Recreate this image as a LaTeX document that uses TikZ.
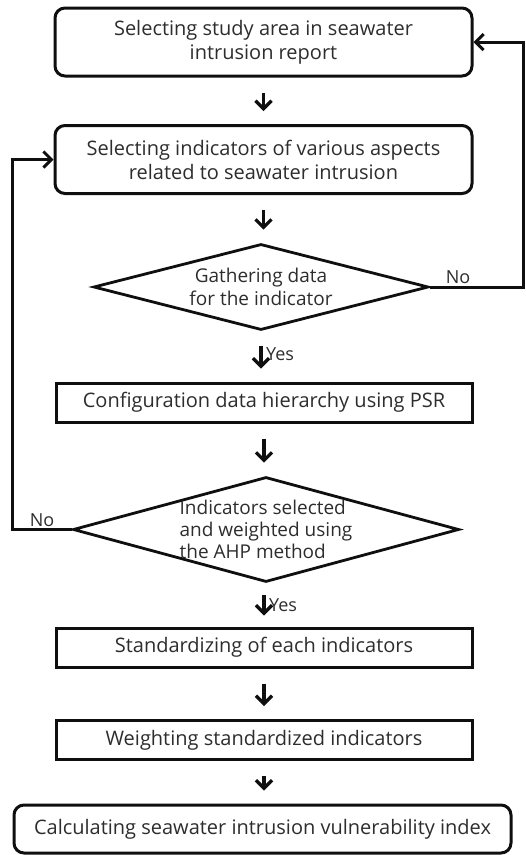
\documentclass[tikz,border=0pt]{standalone}
\usepackage{fontspec}
\setmainfont{Open Sans}
\usetikzlibrary{shapes.geometric, positioning, arrows.meta}
\definecolor{FCInk}{RGB}{15,15,15}
\definecolor{FCText}{RGB}{45,45,45}

\begin{document}
\begin{tikzpicture}[x=1pt, y=-1pt,
    every node/.style={font=\fontsize{20}{24}\selectfont, text=FCText},
    roundbox/.style={draw=FCInk, line width=3pt, rounded corners=10pt,
                     minimum width=417pt, minimum height=68pt, align=center},
    plainbox/.style={draw=FCInk, line width=3pt,
                     minimum width=416pt, minimum height=39pt},
    decision/.style={diamond, draw=FCInk, line width=2.8pt, inner sep=0pt},
    flow/.style={-{Straight Barb[length=8pt,width=16pt]}, FCInk,
                 line width=3.2pt, shorten <=15pt, shorten >=13pt},
    back/.style={-{Straight Barb[length=8pt,width=16pt]}, FCInk,
                 line width=3pt},
    tag/.style={font=\fontsize{18}{20}\selectfont, inner sep=1.5pt}]
  \useasboundingbox (0,0) rectangle (526,855);

  % ---- Main column ----
  \node[roundbox] (area) at (263.5,42)
        {Selecting study area in seawater\\intrusion report};
  \node[roundbox] (aspects) at (263.5,159.5)
        {Selecting indicators of various aspects\\related to seawater intrusion};
  \node[decision, minimum width=335pt, minimum height=86pt,
        label={[align=center, font=\fontsize{19}{23}\selectfont]
               center:Gathering data\\for the indicator}]
        (gather) at (261,287) {};
  \node[plainbox] (psr) at (264,402.5) {Configuration data hierarchy using PSR};
  \node[decision, minimum width=386pt, minimum height=105pt,
        label={[align=left, font=\fontsize{19}{22}\selectfont]
               center:Indicators selected\\and weighted using\\the AHP method}]
        (ahp) at (266,529.5) {};
  \node[plainbox] (standard) at (264,647.5) {Standardizing of each indicators};
  \node[plainbox] (weighting) at (264,740) {Weighting standardized indicators};
  \node[roundbox, minimum width=497pt, minimum height=48pt] (index) at (262.5,829)
        {Calculating seawater intrusion vulnerability index};

  % ---- Forward arrows ----
  \foreach \a/\b in {area/aspects, aspects/gather, psr/ahp,
                     standard/weighting, weighting/index} {
    \draw[flow] (\a.south) -- (\a.south |- \b.north);
  }
  \draw[flow] (gather.south) -- node[tag, right, xshift=2pt, pos=0.45] {Yes}
        (gather.south |- psr.north);
  \draw[flow, shorten <=12pt, shorten >=11pt] (ahp.south -| psr.south)
        -- node[tag, right, xshift=2pt, pos=0.5] {Yes} (standard.north);

  % ---- Feedback loops ----
  \draw[back] (gather.east) -- node[tag, above, pos=0.3] {No} ++(94,0)
        |- (area.east);
  \draw[back] (ahp.west) -- node[tag, above, pos=0.5] {No} ++(-59,0)
        |- (aspects.west);
\end{tikzpicture}
\end{document}
